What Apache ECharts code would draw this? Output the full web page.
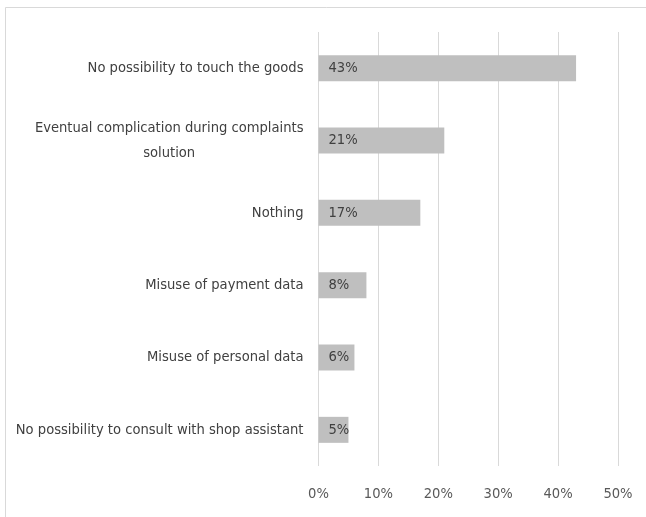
<!DOCTYPE html>
<html>
<head>
<meta charset="utf-8">
<script src="https://cdn.jsdelivr.net/npm/echarts@6/dist/echarts.min.js"></script>
<style>
  html, body { margin: 0; padding: 0; background: #ffffff; }
  #chart { width: 646px; height: 517px; }
</style>
</head>
<body>
<div id="chart"></div>
<script>
// Reasons respondents give against shopping online (share of answers, %)
const categories = [
  'No possibility to touch the goods',
  'Eventual complication during complaints\nsolution',
  'Nothing',
  'Misuse of payment data',
  'Misuse of personal data',
  'No possibility to consult with shop assistant'
];
const shares = [43, 21, 17, 8, 6, 5];
const tickValues = [0, 10, 20, 30, 40, 50];

const FONT = "'Liberation Sans Narrow', 'DejaVu Sans Condensed', 'Liberation Sans', sans-serif";
const FONT_SIZE = 14.6;

const chart = echarts.init(document.getElementById('chart'));
chart.setOption({
  backgroundColor: '#ffffff',
  animation: false,
  graphic: [{
    type: 'rect',
    shape: { x: 5.5, y: 7.5, width: 700, height: 600 },
    style: { fill: 'none', stroke: '#d9d9d9', lineWidth: 1 },
    silent: true
  }],
  grid: {
    left: 318.5, right: 28, top: 32, bottom: 51,
    containLabel: false,
    outerBoundsMode: 'none'
  },
  xAxis: {
    type: 'value',
    min: tickValues[0],
    max: tickValues[tickValues.length - 1],
    interval: tickValues[1] - tickValues[0],
    axisLine: { show: false },
    axisTick: { show: false },
    splitLine: { show: true, lineStyle: { color: '#d9d9d9', width: 1 } },
    axisLabel: {
      formatter: '{value}%',
      color: '#595959',
      fontFamily: FONT,
      fontSize: FONT_SIZE,
      margin: 21
    }
  },
  yAxis: {
    type: 'category',
    inverse: true,
    data: categories,
    axisLine: { show: false },
    axisTick: { show: false },
    splitLine: { show: false },
    axisLabel: {
      margin: 15,
      color: '#404040',
      fontFamily: FONT,
      fontSize: FONT_SIZE,
      lineHeight: 25,
      formatter: function (v) {
        return v.split('\n').map(function (s) { return '{c|' + s + '}'; }).join('\n');
      },
      rich: {
        c: {
          align: 'center',
          color: '#404040',
          fontFamily: FONT,
          fontSize: FONT_SIZE,
          lineHeight: 25
        }
      }
    }
  },
  series: [{
    type: 'bar',
    data: shares,
    barWidth: 26,
    itemStyle: { color: '#bfbfbf' },
    label: {
      show: true,
      position: 'insideLeft',
      distance: 10,
      formatter: '{c}%',
      color: '#404040',
      fontFamily: FONT,
      fontSize: FONT_SIZE
    }
  }]
});
</script>
</body>
</html>
